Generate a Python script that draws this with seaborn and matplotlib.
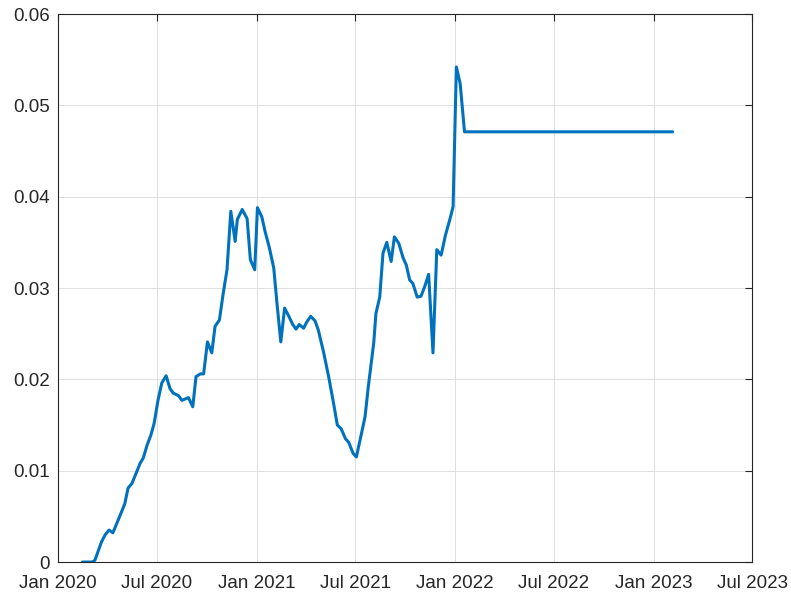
import pandas as pd
import matplotlib
matplotlib.use("Agg")
import matplotlib.pyplot as plt
import matplotlib.dates as mdates
import seaborn as sns

dates = [
    "2020-02-15", "2020-03-04", "2020-03-09", "2020-03-21", "2020-03-28", "2020-04-04",
    "2020-04-11", "2020-04-18", "2020-04-27", "2020-05-03", "2020-05-09", "2020-05-16",
    "2020-05-25", "2020-05-31", "2020-06-06", "2020-06-13", "2020-06-20", "2020-06-26",
    "2020-07-03", "2020-07-10", "2020-07-18", "2020-07-25", "2020-07-31", "2020-08-10",
    "2020-08-16", "2020-08-28", "2020-09-05", "2020-09-11", "2020-09-19", "2020-09-25",
    "2020-10-02", "2020-10-10", "2020-10-16", "2020-10-24", "2020-10-31", "2020-11-07",
    "2020-11-14", "2020-11-22", "2020-11-26", "2020-12-05", "2020-12-14", "2020-12-20",
    "2020-12-28", "2021-01-02", "2021-01-10", "2021-01-16", "2021-01-24", "2021-02-01",
    "2021-02-07", "2021-02-14", "2021-02-21", "2021-02-28", "2021-03-08", "2021-03-14",
    "2021-03-20", "2021-03-28", "2021-04-03", "2021-04-10", "2021-04-18", "2021-04-24",
    "2021-05-04", "2021-05-13", "2021-05-22", "2021-05-29", "2021-06-05", "2021-06-13",
    "2021-06-19", "2021-06-27", "2021-07-03", "2021-07-10", "2021-07-19", "2021-07-25",
    "2021-08-04", "2021-08-08", "2021-08-15", "2021-08-21", "2021-08-28", "2021-09-05",
    "2021-09-11", "2021-09-19", "2021-09-27", "2021-10-03", "2021-10-09", "2021-10-15",
    "2021-10-23", "2021-10-30", "2021-11-06", "2021-11-13", "2021-11-21", "2021-11-28",
    "2021-12-06", "2021-12-14", "2021-12-22", "2021-12-28", "2022-01-03", "2022-01-10",
    "2022-01-18", "2023-02-05",
]
values = [
    0.0, 0.0, 0.0002, 0.0022, 0.0030, 0.0035,
    0.0032, 0.0042, 0.0055, 0.0064, 0.0081, 0.0086,
    0.0099, 0.0108, 0.0114, 0.0128, 0.0139, 0.0152,
    0.0177, 0.0196, 0.0204, 0.0190, 0.0185, 0.0182,
    0.0177, 0.0180, 0.0170, 0.0203, 0.0206, 0.0206,
    0.0241, 0.0229, 0.0258, 0.0265, 0.0294, 0.0320,
    0.0384, 0.0351, 0.0375, 0.0386, 0.0376, 0.0331,
    0.0320, 0.0388, 0.0378, 0.0362, 0.0344, 0.0322,
    0.0283, 0.0241, 0.0278, 0.0270, 0.0260, 0.0255,
    0.0260, 0.0256, 0.0263, 0.0269, 0.0264, 0.0254,
    0.0229, 0.0203, 0.0174, 0.0150, 0.0146, 0.0135,
    0.0131, 0.0119, 0.0115, 0.0134, 0.0159, 0.0192,
    0.0240, 0.0272, 0.0290, 0.0338, 0.0350, 0.0329,
    0.0356, 0.0349, 0.0333, 0.0325, 0.0309, 0.0305,
    0.0290, 0.0291, 0.0302, 0.0315, 0.0229, 0.0342,
    0.0336, 0.0358, 0.0375, 0.0389, 0.0542, 0.0524,
    0.0471, 0.0471,
]
x_ticks = ["2020-01-01", "2020-07-01", "2021-01-01", "2021-07-01",
           "2022-01-01", "2022-07-01", "2023-01-01", "2023-07-01"]
y_ticks = [0, 0.01, 0.02, 0.03, 0.04, 0.05, 0.06]
y_labels = ["0", "0.01", "0.02", "0.03", "0.04", "0.05", "0.06"]

df = pd.DataFrame({"date": pd.to_datetime(dates), "value": values})

sns.set_style("white")
plt.rcParams["font.family"] = ["Liberation Sans", "DejaVu Sans"]

fig = plt.figure(figsize=(7.91, 5.96), dpi=100)
ax = fig.add_axes([0.0733, 0.057, 0.8774, 0.9195])

sns.lineplot(data=df, x="date", y="value", ax=ax, color="#0072BD", linewidth=2.2)

ax.set_xlim(pd.Timestamp(x_ticks[0]), pd.Timestamp(x_ticks[-1]))
ax.set_ylim(y_ticks[0], y_ticks[-1])
ax.set_xticks(pd.to_datetime(x_ticks))
ax.xaxis.set_major_formatter(mdates.DateFormatter("%b %Y"))
ax.set_yticks(y_ticks)
ax.set_yticklabels(y_labels)
ax.set_xlabel("")
ax.set_ylabel("")

ax.grid(True, color="#dedede", linewidth=0.7)
ax.set_axisbelow(True)
for s in ax.spines.values():
    s.set_visible(True)
    s.set_color("#262626")
    s.set_linewidth(0.8)
ax.tick_params(axis="both", direction="in", length=5, width=0.8, color="#262626",
               labelsize=13.5, labelcolor="#262626", top=True, right=True,
               labeltop=False, labelright=False)
ax.tick_params(axis="x", pad=9)
ax.tick_params(axis="y", pad=6)

fig.savefig("out.png", dpi=100)
